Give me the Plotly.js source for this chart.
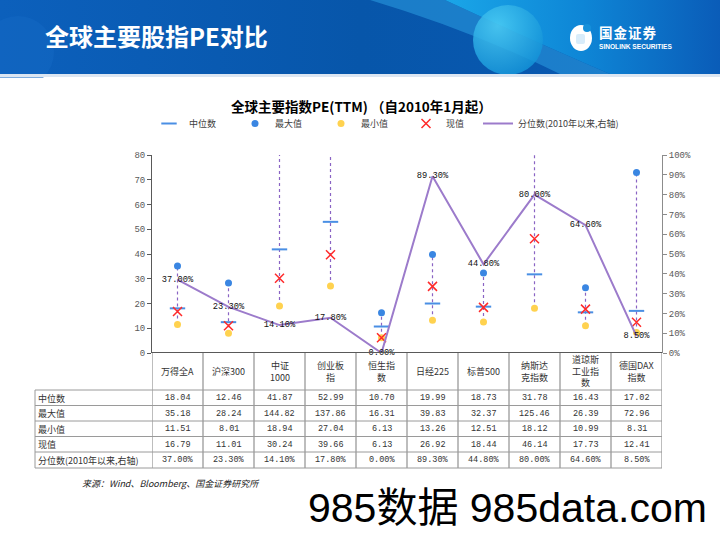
<!DOCTYPE html>
<html>
<head>
<meta charset="utf-8">
<script src="https://cdn.plot.ly/plotly-3.0.1.min.js"></script>
<style>
html,body{margin:0;padding:0;background:#fff;}
#wrap{position:relative;width:720px;height:540px;overflow:hidden;background:#fff;}
#banner{position:absolute;left:0;top:0;}
#chart{position:absolute;left:0;top:0;width:720px;height:540px;}
</style>
</head>
<body>
<div id="wrap">
<svg id="banner" width="720" height="78" xmlns="http://www.w3.org/2000/svg">
  <defs>
    <linearGradient id="base" x1="0" x2="1" y1="0" y2="0">
      <stop offset="0" stop-color="#0C60BC"/>
      <stop offset="0.5" stop-color="#0756AA"/>
      <stop offset="1" stop-color="#0A5AB4"/>
    </linearGradient>
    <linearGradient id="bright" x1="0" x2="1" y1="0" y2="0">
      <stop offset="0" stop-color="#1AA6E8"/>
      <stop offset="0.5" stop-color="#0E86D6"/>
      <stop offset="1" stop-color="#0A5CB8"/>
    </linearGradient>
    <radialGradient id="ball" cx="0.35" cy="0.3" r="0.8">
      <stop offset="0" stop-color="#4CCDF4"/>
      <stop offset="1" stop-color="#0F8FD6"/>
    </radialGradient>
  </defs>
  <rect x="0" y="0" width="720" height="74" fill="url(#base)"/>
  <circle cx="18" cy="52" r="36" fill="#1468C2" opacity="0.55"/>
  <path d="M 370 0 L 445 0 Q 520 35 610 74 L 560 74 Q 470 30 370 0 Z" fill="#2C9FE2" opacity="0.55"/>
  <path d="M 445 0 L 720 0 L 720 74 L 610 74 Q 520 35 445 0 Z" fill="url(#bright)"/>
  <circle cx="508" cy="40" r="35" fill="url(#ball)" opacity="0.85"/>
  <rect x="0" y="74" width="720" height="3" fill="#DCE6F2"/>
  <ellipse cx="581" cy="38" rx="11" ry="13" fill="#ffffff"/>
  <circle cx="587" cy="28" r="4" fill="#1690DA"/>
  <rect x="576" y="34" width="9" height="10" rx="2" fill="#d8ecfa"/>
  <text x="45" y="46" font-family="Noto Sans CJK SC" font-weight="bold" font-size="24" fill="#ffffff">全球主要股指PE对比</text>
  <text x="599" y="38" font-family="Noto Sans CJK SC" font-weight="bold" font-size="13.5" fill="#ffffff" letter-spacing="1">国金证券</text>
  <text x="599" y="49" font-family="Liberation Sans" font-weight="bold" font-size="6.6" fill="#ffffff">SINOLINK SECURITIES</text>
</svg>
<div id="chart"></div>
</div>
<script>
// ---- data ----
const categories = ['万得全A','沪深300','中证1000','创业板指','恒生指数','日经225','标普500','纳斯达克指数','道琼斯工业指数','德国DAX指数'];
const headerLabels = ['万得全A','沪深300','中证<br>1000','创业板<br>指','恒生指<br>数','日经225','标普500','纳斯达<br>克指数','道琼斯<br>工业指<br>数','德国DAX<br>指数'];
const medianVals = [18.04,12.46,41.87,52.99,10.70,19.99,18.73,31.78,16.43,17.02];
const maxVals = [35.18,28.24,144.82,137.86,16.31,39.83,32.37,125.46,26.39,72.96];
const minVals = [11.51,8.01,18.94,27.04,6.13,13.26,12.51,18.12,10.99,8.31];
const currentVals = [16.79,11.01,30.24,39.66,6.13,26.92,18.44,46.14,17.73,12.41];
const percentileVals = [0.370,0.233,0.141,0.178,0.000,0.893,0.448,0.800,0.646,0.085];
const rowLabels = ['中位数','最大值','最小值','现值','分位数(2010年以来,右轴)'];
const leftTicks = [0,10,20,30,40,50,60,70,80];

// ---- helpers ----
const W = 720, H = 540;
const px = v => v / W;
const py = v => (H - v) / H;
const xs = categories.map((c, i) => i);
const pct = v => (v * 100).toFixed(2) + '%';
const numFont = 'Liberation Mono, Noto Sans CJK SC, monospace';
const cjkFont = 'Noto Sans CJK SC, sans-serif';

// high-low connector lines
const hlX = [], hlY = [];
xs.forEach((x, i) => { hlX.push(x, x, null); hlY.push(minVals[i], maxVals[i], null); });

const traces = [
  {x: hlX, y: hlY, mode: 'lines', line: {color: '#8A64C4', width: 1.2, dash: 'dot'},
   showlegend: false, hoverinfo: 'skip', yaxis: 'y'},
  {x: xs, y: percentileVals, mode: 'lines', name: '分位数(2010年以来,右轴)', yaxis: 'y2',
   line: {color: '#9C7BCB', width: 2}, legend: 'legend5'},
  {x: xs, y: medianVals, mode: 'markers', name: '中位数', yaxis: 'y',
   marker: {symbol: 'line-ew', size: 11, line: {color: '#4A8FE4', width: 2}, color: '#4A8FE4'}, legend: 'legend'},
  {x: xs, y: maxVals, mode: 'markers', name: '最大值', yaxis: 'y',
   marker: {symbol: 'circle', size: 7, color: '#3A86E2'}, legend: 'legend2'},
  {x: xs, y: minVals, mode: 'markers', name: '最小值', yaxis: 'y',
   marker: {symbol: 'circle', size: 7, color: '#FFD24F'}, legend: 'legend3'},
  {x: xs, y: currentVals, mode: 'markers', name: '现值', yaxis: 'y',
   marker: {symbol: 'x-thin-open', size: 9, line: {color: '#FF2A2A', width: 1.5}, color: '#FF2A2A'}, legend: 'legend4'},
  {x: xs, y: percentileVals, mode: 'text', text: percentileVals.map(pct), textposition: 'middle center',
   textfont: {family: numFont, size: 8.7, color: '#111'}, yaxis: 'y2', showlegend: false,
   cliponaxis: false, hoverinfo: 'skip'}
];

// ---- table shapes & annotations ----
const shapes = [];
const annotations = [];
const tableTop = 353, headerBottom = 390;
const rowLines = [390, 405.5, 421, 436.5, 452, 468];
const rowCenters = [398, 413.5, 429, 444.5, 460];
const lineColor = '#9A9A9A';

for (let i = 0; i <= categories.length; i++) {
  shapes.push({type: 'line', xref: 'x', yref: 'paper', x0: i - 0.5, x1: i - 0.5,
    y0: py(tableTop), y1: py(rowLines[rowLines.length - 1]), line: {color: lineColor, width: 1.3}});
}
shapes.push({type: 'line', xref: 'paper', yref: 'paper', x0: px(35), x1: px(35),
  y0: py(headerBottom), y1: py(rowLines[rowLines.length - 1]), line: {color: lineColor, width: 1}});
rowLines.forEach(r => {
  shapes.push({type: 'line', xref: 'paper', yref: 'paper', x0: px(35), x1: px(662),
    y0: py(r), y1: py(r), line: {color: lineColor, width: 1}});
});
shapes.push({type: 'line', xref: 'x', yref: 'y', x0: -0.5, x1: categories.length - 0.5, y0: 0, y1: 0,
  line: {color: '#595959', width: 2}});

headerLabels.forEach((t, i) => {
  annotations.push({xref: 'x', yref: 'paper', x: i, y: py(371.5), xanchor: 'center', yanchor: 'middle',
    text: t, showarrow: false, font: {family: cjkFont, size: 9, color: '#333'}, align: 'center'});
});
const rows = [medianVals.map(v => v.toFixed(2)), maxVals.map(v => v.toFixed(2)),
  minVals.map(v => v.toFixed(2)), currentVals.map(v => v.toFixed(2)), percentileVals.map(pct)];
rowLabels.forEach((lab, r) => {
  annotations.push({xref: 'paper', yref: 'paper', x: px(36), y: py(rowCenters[r]), xanchor: 'left', yanchor: 'middle',
    text: lab, showarrow: false, font: {family: cjkFont, size: 9, color: '#333'}});
  rows[r].forEach((val, i) => {
    annotations.push({xref: 'x', yref: 'paper', x: i, y: py(rowCenters[r]), xanchor: 'center', yanchor: 'middle',
      text: val, showarrow: false, font: {family: numFont, size: 8.5, color: '#333'}});
  });
});

annotations.push({xref: 'paper', yref: 'paper', x: px(361), y: py(106.5), xanchor: 'center', yanchor: 'middle',
  text: '<b>全球主要指数PE(TTM) （自2010年1月起）</b>', showarrow: false,
  font: {family: cjkFont, size: 13.5, color: '#000'}});
annotations.push({xref: 'paper', yref: 'paper', x: px(80), y: py(483), xanchor: 'left', yanchor: 'middle',
  text: '<i>来源：Wind、Bloomberg、国金证券研究所</i>', showarrow: false,
  font: {family: cjkFont, size: 9, color: '#222'}});
annotations.push({xref: 'paper', yref: 'paper', x: px(306), y: py(508), xanchor: 'left', yanchor: 'middle',
  text: '985数据 985data.com', showarrow: false,
  font: {family: 'Liberation Sans, Noto Sans CJK SC, sans-serif', size: 41, color: '#000'}});

const legFont = {family: cjkFont, size: 9, color: '#404040'};
const legBase = {orientation: 'h', yanchor: 'middle', y: py(123.5), xanchor: 'left', bgcolor: 'rgba(0,0,0,0)',
  font: legFont, borderwidth: 0};
const layout = {
  width: W, height: H,
  margin: {l: 0, r: 0, t: 0, b: 0},
  paper_bgcolor: 'rgba(0,0,0,0)', plot_bgcolor: 'rgba(0,0,0,0)',
  showlegend: true,
  legend: Object.assign({}, legBase, {x: px(149)}),
  legend2: Object.assign({}, legBase, {x: px(235)}),
  legend3: Object.assign({}, legBase, {x: px(321)}),
  legend4: Object.assign({}, legBase, {x: px(406)}),
  legend5: Object.assign({}, legBase, {x: px(478)}),
  xaxis: {domain: [px(152), px(662)], range: [-0.5, categories.length - 0.5], showticklabels: false,
    showgrid: false, zeroline: false, showline: false, ticks: '', fixedrange: true},
  yaxis: {domain: [py(353), py(155)], range: [0, 80], tickvals: leftTicks, showgrid: false, zeroline: false,
    showline: true, linecolor: '#595959', linewidth: 1, ticks: 'outside', ticklen: 4, tickcolor: '#595959',
    tickfont: {family: numFont, size: 9, color: '#595959'}, anchor: 'x'},
  yaxis2: {overlaying: 'y', side: 'right', anchor: 'x', range: [0, 1], dtick: 0.1, tickformat: '.0%',
    showgrid: false, zeroline: false, showline: true, linecolor: '#8C8C8C', linewidth: 1,
    ticks: 'outside', ticklen: 4, tickcolor: '#8C8C8C',
    tickfont: {family: numFont, size: 9, color: '#595959'}},
  shapes: shapes,
  annotations: annotations
};
Plotly.newPlot('chart', traces, layout, {staticPlot: true, displayModeBar: false});
</script>
</body>
</html>
